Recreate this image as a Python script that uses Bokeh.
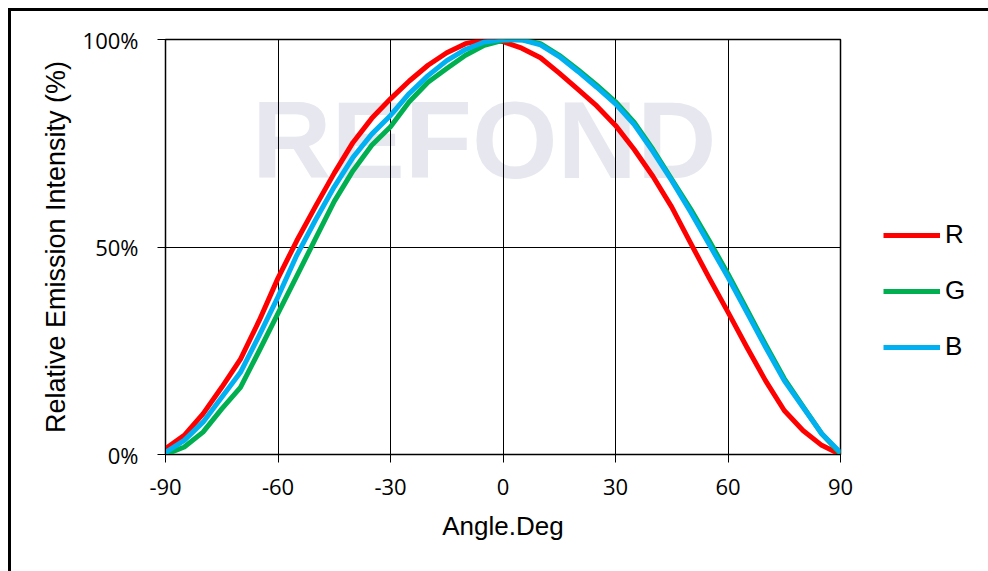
from bokeh.plotting import figure
from bokeh.models import Range1d, FixedTicker, Legend, LegendItem, Label
from bokeh.embed import file_html
from bokeh.resources import INLINE

# ---- data ----
angle = [-90, -85, -80, -75, -70, -65, -60, -55, -50, -45, -40, -35, -30, -25, -20, -15, -10, -5,
         0, 5, 10, 15, 20, 25, 30, 35, 40, 45, 50, 55, 60, 65, 70, 75, 80, 85, 90]
red = [1.4, 4.6, 9.8, 16.2, 23.0, 32.3, 42.5, 51.5, 59.8, 67.8, 75.2, 81.0, 85.7, 90.0, 93.8, 96.8, 99.0, 99.9,
       99.5, 97.9, 95.6, 91.9, 88.0, 84.0, 79.3, 73.5, 67.0, 59.6, 51.0, 42.5, 34.3, 25.9, 17.8, 10.6, 5.8, 2.2, 0.0]
green = [0.0, 1.8, 5.4, 11.0, 16.2, 25.0, 34.0, 43.0, 52.0, 61.0, 68.4, 74.5, 79.0, 85.0, 89.7, 93.0, 96.2, 98.6,
         99.8, 100.0, 99.0, 96.2, 92.7, 89.0, 85.0, 80.0, 73.5, 66.3, 59.2, 51.5, 43.5, 35.0, 26.5, 18.3, 11.6, 5.0, 0.2]
blue = [0.5, 3.4, 7.8, 13.8, 19.8, 28.7, 38.0, 48.0, 56.5, 64.5, 71.6, 77.2, 81.7, 87.0, 91.3, 94.9, 97.6, 99.4,
        100.0, 99.9, 98.7, 95.9, 92.3, 88.5, 84.5, 79.5, 73.0, 66.0, 58.5, 50.6, 42.7, 34.3, 25.9, 17.8, 11.4, 5.0, 0.5]
series_names = ["R", "G", "B"]
series_colors = ["#FF0000", "#00B050", "#00B0F0"]
x_ticks = [-90, -60, -30, 0, 30, 60, 90]
x_tick_labels = {-90: "-90", -60: "-60", -30: "-30", 0: "0", 30: "30", 60: "60", 90: "90"}
y_ticks = [0, 50, 100]
y_tick_labels = {0: "0%", 50: "50%", 100: "100%"}

p = figure(frame_width=675, frame_height=415, output_backend="svg", toolbar_location=None,
           x_range=Range1d(-90, 90), y_range=Range1d(0, 100),
           min_border_left=154, min_border_right=148, min_border_top=28, min_border_bottom=117)
p.styles = {"margin-left": "8px", "margin-top": "8px",
            "border-left": "3px solid black", "border-top": "3px solid black"}
p.background_fill_color = "white"
p.border_fill_color = "white"
p.outline_line_color = "black"
p.outline_line_width = 1.5

# watermark
wm = Label(x=-5, y=76, text="REFOND", text_align="center", text_baseline="middle",
           text_font="Liberation Sans", text_font_style="bold", text_font_size="110px",
           text_color="#e6e7ef", level="image")
p.add_layout(wm)

for ax in (p.xaxis[0], p.yaxis[0]):
    ax.axis_line_color = "black"
    ax.major_tick_line_color = "black"
    ax.major_tick_out = 8
    ax.major_tick_in = 0
    ax.minor_tick_line_color = None
    ax.major_label_text_font = "Open Sans"
    ax.major_label_text_font_size = "22px"
    ax.major_label_text_color = "black"
    ax.axis_label_text_font = "Liberation Sans"
    ax.axis_label_text_font_style = "normal"
    ax.axis_label_text_color = "black"

p.xaxis.ticker = FixedTicker(ticks=x_ticks)
p.yaxis.ticker = FixedTicker(ticks=y_ticks)
p.xaxis.major_label_overrides = x_tick_labels
p.yaxis.major_label_overrides = y_tick_labels
p.xaxis.axis_label = "Angle.Deg"
p.yaxis.axis_label = "Relative Emission Intensity (%)"
p.xaxis.axis_label_text_font_size = "26px"
p.yaxis.axis_label_text_font_size = "27px"
p.xaxis.major_label_standoff = 16
p.yaxis.major_label_standoff = 19
p.xaxis.axis_label_standoff = 13
p.yaxis.axis_label_standoff = 9

p.grid.grid_line_color = "black"
p.grid.grid_line_width = 1
p.grid.grid_line_alpha = 1

items = []
for name, col, ys in zip(series_names, series_colors, [red, green, blue]):
    r = p.line(angle, ys, line_color=col, line_width=5, line_join="round")
    items.append(LegendItem(label=name, renderers=[r]))

legend = Legend(items=items, location=(43, 92), orientation="vertical",
                glyph_width=57, glyph_height=30, label_height=30, label_standoff=5,
                spacing=25, padding=0, margin=0,
                label_text_font="Liberation Sans", label_text_font_size="26px",
                label_text_color="black", border_line_color=None,
                background_fill_alpha=0)
p.add_layout(legend, "right")

open("out.html", "w").write(file_html(p, INLINE))
